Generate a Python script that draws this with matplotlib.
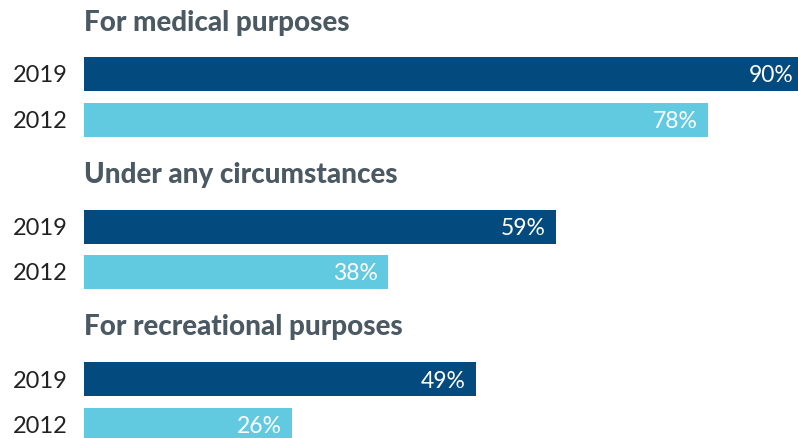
import matplotlib
matplotlib.use("Agg")
import matplotlib.pyplot as plt

groups = ["For medical purposes", "Under any circumstances", "For recreational purposes"]
years = ["2019", "2012"]
values_2019 = [90, 59, 49]
values_2012 = [78, 38, 26]

colors = {"2019": "#034a7e", "2012": "#61cae1"}
title_color = "#4b5963"
year_color = "#222222"

W, H = 798, 438
fig = plt.figure(figsize=(W / 100, H / 100), dpi=100)
left_px = 84
ax = fig.add_axes([left_px / W, 0, 1 - left_px / W, 1])
px_per_unit = 8.0
ax.set_xlim(0, (W - left_px) / px_per_unit)
ax.set_ylim(H, 0)
ax.axis("off")

bar_h = 34
row_pitch = 45.5
group_pitch = 152.5
first_center = 74
title_offset = 43.5

series = {"2019": values_2019, "2012": values_2012}
for g, name in enumerate(groups):
    base = first_center + g * group_pitch
    ax.text(0, base - title_offset, name, ha="left", va="baseline",
            fontsize=20, fontweight="black", color=title_color, family="Lato")
    for r, yr in enumerate(years):
        y = base + r * row_pitch
        v = series[yr][g]
        ax.barh(y, v, height=bar_h, color=colors[yr], left=0, clip_on=True)
        ax.annotate(f"{v}%", xy=(v, y), xytext=(-10, 0), textcoords="offset pixels",
                    ha="right", va="center_baseline", fontsize=16.5, fontweight="normal",
                    color="white", family="Lato", annotation_clip=False)
        ax.annotate(yr, xy=(0, y), xytext=(-16, 0), textcoords="offset pixels",
                    ha="right", va="center_baseline", fontsize=17, fontweight="normal",
                    color=year_color, family="Lato", annotation_clip=False)

fig.savefig("out.png", dpi=100)
